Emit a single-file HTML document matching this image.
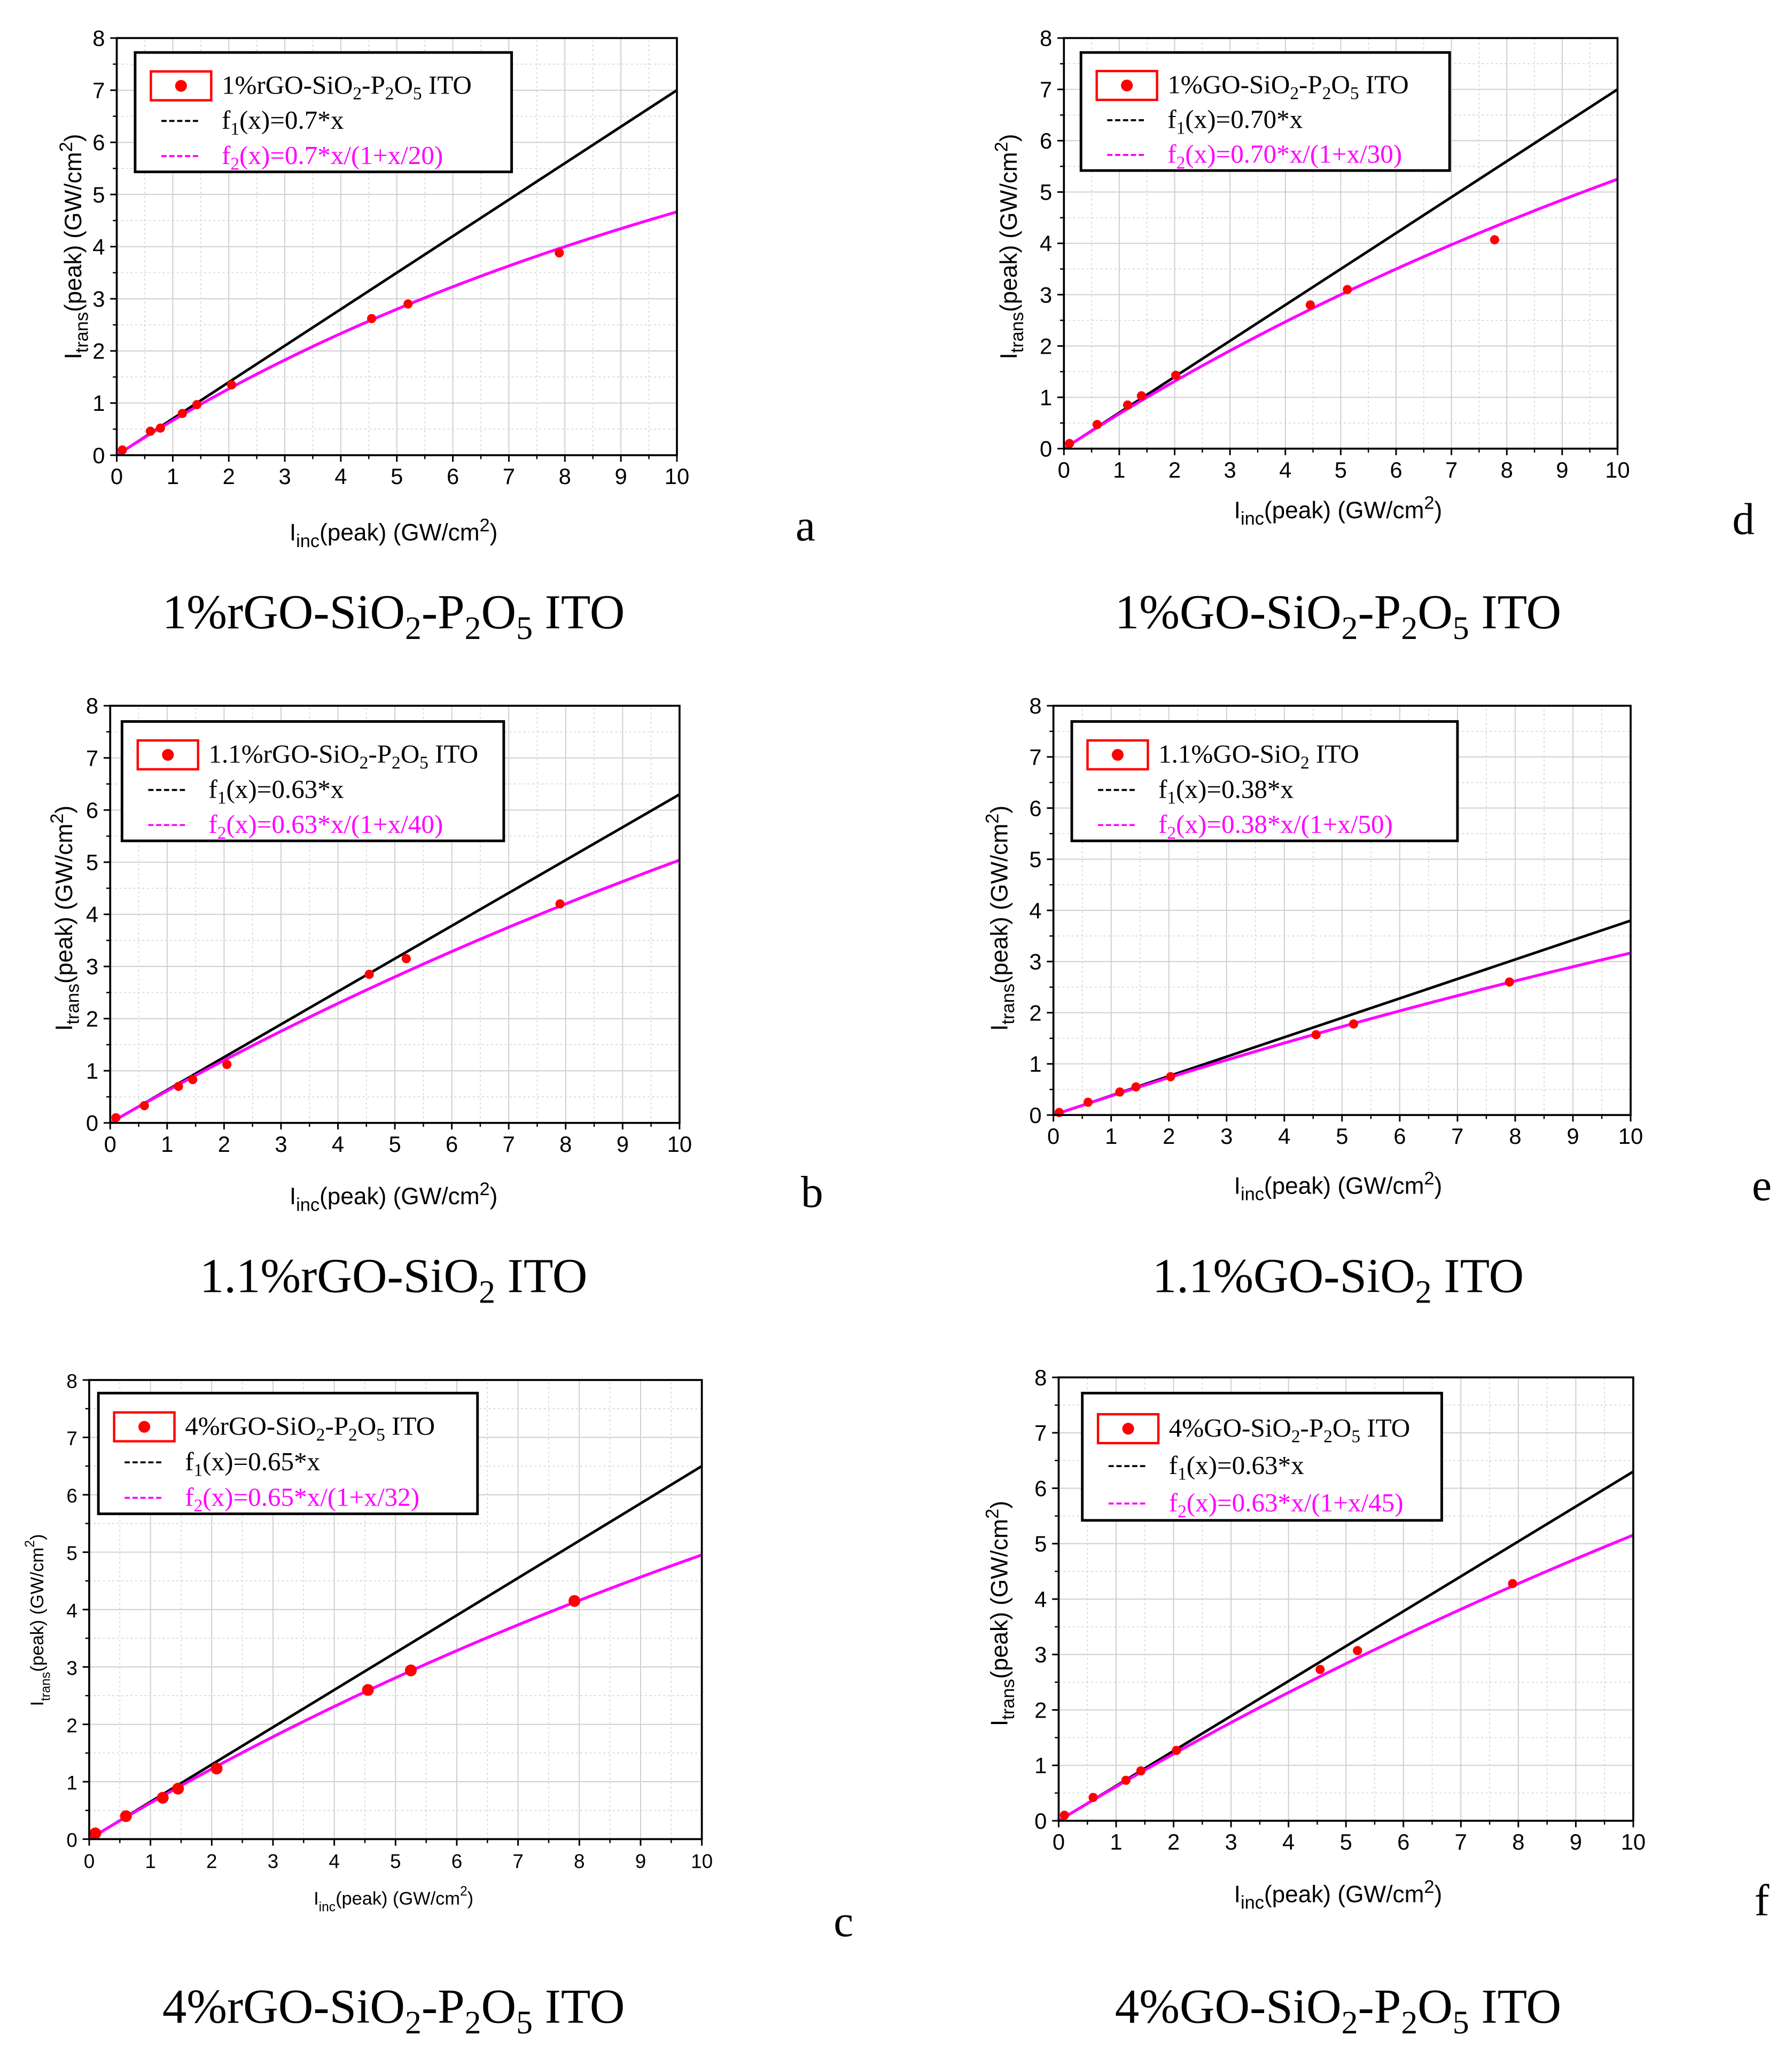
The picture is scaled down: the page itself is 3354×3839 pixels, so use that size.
<!DOCTYPE html>
<html><head><meta charset="utf-8"><style>
html,body{margin:0;padding:0;background:#fff}
svg{display:block}
</style></head><body>
<svg id="fig" xmlns="http://www.w3.org/2000/svg" width="3354" height="3839" viewBox="0 0 1366 1563.5"></svg>
<script>
const xsA=[0.1,0.6,0.78,1.17,1.43,2.05,4.55,5.2,7.9];
const ysA=[0.1,0.46,0.52,0.8,0.97,1.35,2.62,2.9,3.88];
const xsD=[0.1,0.6,1.15,1.4,2.02,4.45,5.12,7.78];
const ysD=[0.1,0.47,0.85,1.03,1.43,2.8,3.1,4.07];
const xsB=[0.1,0.6,1.2,1.45,2.05,4.55,5.2,7.9];
const ysB=[0.1,0.33,0.7,0.83,1.12,2.85,3.15,4.2];
const xsE=[0.1,0.6,1.15,1.43,2.03,4.55,5.2,7.9];
const ysE=[0.05,0.25,0.45,0.55,0.75,1.57,1.78,2.6];
const xsC=[0.1,0.6,1.2,1.45,2.08,4.55,5.25,7.92];
const ysC=[0.1,0.4,0.72,0.88,1.23,2.6,2.94,4.15];
const xsF=[0.1,0.6,1.17,1.43,2.05,4.55,5.2,7.9];
const ysF=[0.1,0.42,0.73,0.9,1.27,2.73,3.07,4.28];
const slopes=[0.7,0.70,0.63,0.38,0.65,0.63];
const sats=[20,30,40,50,32,45];
const xTicks=[0,1,2,3,4,5,6,7,8,9,10];
const yTicks=[0,1,2,3,4,5,6,7,8];

const NS="http://www.w3.org/2000/svg";
const svg=document.getElementById('fig');
function el(tag,attrs,parent,text){const e=document.createElementNS(NS,tag);for(const k in attrs)e.setAttribute(k,attrs[k]);if(text!==undefined)e.textContent=text;(parent||svg).appendChild(e);return e;}

const panels=[
 {id:'a',x0:89,x1:516,y0:347,y1:29,leg:[103,40,390,131],xs:xsA,ys:ysA,k:0,kl:'0.7',sl:'20',name:['1%','rGO-SiO','2','-P','2','O','5',' ITO'],letter:[614,412],title:[300,467],tt:['1%rGO-SiO','2','-P','2','O','5',' ITO'],xl:[300,412],yl:[62,188]},
 {id:'d',x0:811,x1:1233,y0:342,y1:29,leg:[824,40,1105,130],xs:xsD,ys:ysD,k:1,kl:'0.70',sl:'30',name:['1%GO-SiO','2','-P','2','O','5',' ITO'],letter:[1329,407],title:[1020,467],tt:['1%GO-SiO','2','-P','2','O','5',' ITO'],xl:[1020,395],yl:[775,188]},
 {id:'b',x0:84,x1:518,y0:856,y1:538,leg:[93,550,384,641],xs:xsB,ys:ysB,k:2,kl:'0.63',sl:'40',name:['1.1%rGO-SiO','2','-P','2','O','5',' ITO'],letter:[619,920],title:[300,973],tt:['1.1%rGO-SiO','2',' ITO'],xl:[300,918],yl:[55,700]},
 {id:'e',x0:803,x1:1243,y0:850,y1:538,leg:[817,550,1111,641],xs:xsE,ys:ysE,k:3,kl:'0.38',sl:'50',name:['1.1%GO-SiO','2',' ITO'],letter:[1343,915],title:[1020,973],tt:['1.1%GO-SiO','2',' ITO'],xl:[1020,910],yl:[768,700]},
 {id:'c',x0:68,x1:535,y0:1402,y1:1052,leg:[75,1062,364,1154],xs:xsC,ys:ysC,k:4,kl:'0.65',sl:'32',name:['4%rGO-SiO','2','-P','2','O','5',' ITO'],letter:[643,1476],title:[300,1530],tt:['4%rGO-SiO','2','-P','2','O','5',' ITO'],xl:[300,1452],yl:[33,1235],small:true},
 {id:'f',x0:807,x1:1245,y0:1388,y1:1050,leg:[825,1062,1099,1159],xs:xsF,ys:ysF,k:5,kl:'0.63',sl:'45',name:['4%GO-SiO','2','-P','2','O','5',' ITO'],letter:[1343,1460],title:[1020,1530],tt:['4%GO-SiO','2','-P','2','O','5',' ITO'],xl:[1020,1450],yl:[768,1230]}
];

function richText(parent,x,y,parts,size,fill,anchor){
  const t=el('text',{x:x,y:y,'font-family':'Liberation Serif, serif','font-size':size,fill:fill,'text-anchor':anchor||'start'},parent);
  parts.forEach((p,i)=>{
    const isSub=(p.length===1&&/[0-9]/.test(p));
    const ts=el('tspan',{},t,p);
    if(isSub){ts.setAttribute('font-size',size*0.68);ts.setAttribute('dy',size*0.22);}
    else if(i>0 && parts[i-1].length===1 && /[0-9]/.test(parts[i-1])){ts.setAttribute('dy',-size*0.22);}
  });
  return t;
}

panels.forEach(p=>{
  const g=el('g',{});
  
  
  const sx=v=>p.x0+(p.x1-p.x0)*v/10;
  const sy=v=>p.y0+(p.y1-p.y0)*v/8;
  const grid=el('g',{},g);
  
  
  for(let v=0.5;v<10;v+=0.5){el('line',{x1:sx(v),x2:sx(v),y1:p.y0,y2:p.y1,stroke:'#cfcfcf','stroke-width':Number.isInteger(v)?0.8:0.6,'stroke-dasharray':Number.isInteger(v)?'':'1.5,2'},grid);}
  for(let v=0.5;v<8;v+=0.5){el('line',{x1:p.x0,x2:p.x1,y1:sy(v),y2:sy(v),stroke:'#cfcfcf','stroke-width':Number.isInteger(v)?0.8:0.6,'stroke-dasharray':Number.isInteger(v)?'':'1.5,2'},grid);}
  const fs=p.small?15:17;
  xTicks.forEach(v=>{
    el('line',{x1:sx(v),x2:sx(v),y1:p.y0,y2:p.y0+5,stroke:'#000','stroke-width':1.2},g);
    const t=el('text',{x:sx(v),y:p.y0+22,'font-family':'Liberation Sans, sans-serif','font-size':fs,'text-anchor':'middle'},g,String(v));
    
    
    if(v<10){el('line',{x1:sx(v+0.5),x2:sx(v+0.5),y1:p.y0,y2:p.y0+3,stroke:'#000','stroke-width':1},g);}
  });
  yTicks.forEach(v=>{
    el('line',{x1:p.x0,x2:p.x0-5,y1:sy(v),y2:sy(v),stroke:'#000','stroke-width':1.2},g);
    const t=el('text',{x:p.x0-9,y:sy(v)+6,'font-family':'Liberation Sans, sans-serif','font-size':fs,'text-anchor':'end'},g,String(v));
    
    
    if(v<8){el('line',{x1:p.x0,x2:p.x0-3,y1:sy(v+0.5),y2:sy(v+0.5),stroke:'#000','stroke-width':1},g);}
  });
  const k=slopes[p.k], s=sats[p.k];
  const l1=el('line',{x1:sx(0),y1:sy(0),x2:sx(10),y2:sy(k*10),stroke:'#000','stroke-width':2},g);
  
  
  let d='';
  for(let i=0;i<=100;i++){const x=i/10;const y=k*x/(1+x/s);d+=(i?'L':'M')+sx(x).toFixed(2)+','+sy(y).toFixed(2);}
  const l2=el('path',{d:d,fill:'none',stroke:'#ff00ff','stroke-width':2.2},g);
  
  
  p.xs.forEach((x,i)=>{
    const c=el('circle',{cx:sx(x),cy:sy(p.ys[i]),r:p.small?4.5:3.5,fill:'#ff0000'},g);
    
    
  });
  el('rect',{x:p.x0,y:p.y1,width:p.x1-p.x0,height:p.y0-p.y1,fill:'none',stroke:'#000','stroke-width':1.5},g);
  const [lx0,ly0,lx1,ly1]=p.leg;
  const lg=el('g',{},g);
  
  
  el('rect',{x:lx0,y:ly0,width:lx1-lx0,height:ly1-ly0,fill:'#fff',stroke:'#000','stroke-width':2},lg);
  const rh=(ly1-ly0)/3.4;
  const r1=ly0+rh*0.95,r2=r1+rh,r3=r2+rh;
  el('rect',{x:lx0+12,y:r1-11,width:46,height:22,fill:'none',stroke:'#ff0000','stroke-width':1.8},lg);
  el('circle',{cx:lx0+35,cy:r1,r:4.5,fill:'#ff0000'},lg);
  richText(lg,lx0+66,r1+6,p.name,20,'#000');
  el('line',{x1:lx0+20,x2:lx0+50,y1:r2,y2:r2,stroke:'#000','stroke-width':1.5,'stroke-dasharray':'4,2'},lg);
  richText(lg,lx0+66,r2+6,['f','1','(x)='+p.kl+'*x'],20,'#000');
  el('line',{x1:lx0+20,x2:lx0+50,y1:r3,y2:r3,stroke:'#ff00ff','stroke-width':1.5,'stroke-dasharray':'4,2'},lg);
  richText(lg,lx0+66,r3+6,['f','2','(x)='+p.kl+'*x/(1+x/'+p.sl+')'],20,'#ff00ff');
  const xt=el('text',{x:p.xl[0],y:p.xl[1],'font-family':'Liberation Sans, sans-serif','font-size':p.small?14:18,'text-anchor':'middle'},g);
  
  
  el('tspan',{},xt,'I');
  el('tspan',{'font-size':p.small?10:14,dy:5},xt,'inc');
  el('tspan',{dy:-5},xt,'(peak) (GW/cm');
  el('tspan',{'font-size':p.small?10:14,dy:-7},xt,'2');
  el('tspan',{dy:7},xt,')');
  const yt=el('text',{x:0,y:0,'font-family':'Liberation Sans, sans-serif','font-size':p.small?14:18,'text-anchor':'middle',transform:'translate('+p.yl[0]+','+p.yl[1]+') rotate(-90)'},g);
  
  
  el('tspan',{},yt,'I');
  el('tspan',{'font-size':p.small?10:14,dy:5},yt,'trans');
  el('tspan',{dy:-5},yt,'(peak) (GW/cm');
  el('tspan',{'font-size':p.small?10:14,dy:-7},yt,'2');
  el('tspan',{dy:7},yt,')');
  const lt=el('text',{x:p.letter[0],y:p.letter[1],'font-family':'Liberation Serif, serif','font-size':34,'text-anchor':'middle'},g,p.id);
  
  
  const tt=richText(g,p.title[0],p.title[1]+12,p.tt,37,'#000','middle');
  
  
});
</script>
</body></html>
